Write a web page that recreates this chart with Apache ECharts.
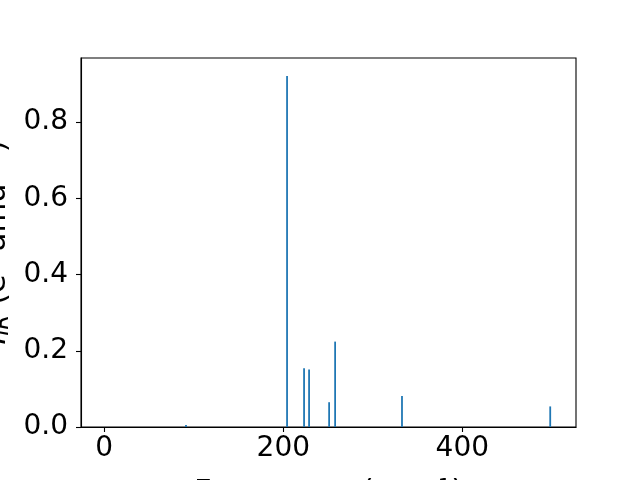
<!DOCTYPE html>
<html>
<head>
<meta charset="utf-8">
<script src="https://cdn.jsdelivr.net/npm/echarts@6/dist/echarts.min.js"></script>
<style>
html,body{margin:0;padding:0;background:#fff;}
#chart{width:640px;height:480px;}
</style>
</head>
<body>
<div id="chart"></div>
<script>
// Data
const frequencies = [91.3, 204.2, 223.2, 228.8, 251.2, 257.9, 332.6, 498.2];
const intensities = [0.005, 0.921, 0.154, 0.151, 0.065, 0.224, 0.081, 0.054];
const xTicks = [0, 200, 400];
const yTicks = [0, 0.2, 0.4, 0.6, 0.8];
const barWidthUnits = 2;

const seriesData = frequencies.map((f, i) => [f, intensities[i]]);

const chart = echarts.init(document.getElementById('chart'), null, {renderer: 'canvas'});
const FONT = 'DejaVu Sans';
chart.setOption({
  animation: false,
  backgroundColor: '#ffffff',
  textStyle: {fontFamily: FONT},
  grid: {left: 81, top: 58, right: 64, bottom: 53, containLabel: false, outerBoundsMode: 'none',
    show: true, borderColor: '#000', borderWidth: 1.1, backgroundColor: 'transparent'},
  xAxis: {
    type: 'value',
    min: -26, max: 527,
    splitLine: {show: false},
    axisLine: {show: true, onZero: false, lineStyle: {color: '#000', width: 1.1}},
    axisTick: {show: true, customValues: xTicks, length: 5, lineStyle: {color: '#000', width: 1.1}},
    axisLabel: {customValues: xTicks, fontSize: 28, color: '#000', fontFamily: FONT, margin: 8, showMinLabel: true, showMaxLabel: true},
    name: 'Frequency (cm{sup|−1})',
    nameLocation: 'middle',
    nameGap: 51,
    nameTextStyle: {fontSize: 30.6, color: '#000', fontFamily: FONT,
      rich: {sup: {fontSize: 21, color: '#000', fontFamily: FONT, verticalAlign: 'top'}}}
  },
  yAxis: {
    type: 'value',
    min: 0, max: 0.968,
    splitLine: {show: false},
    axisLine: {show: true, onZero: false, lineStyle: {color: '#000', width: 1.1}},
    axisTick: {show: true, customValues: yTicks, length: 5, lineStyle: {color: '#000', width: 1.1}},
    axisLabel: {customValues: yTicks, fontSize: 28, color: '#000', fontFamily: FONT, margin: 13,
      formatter: v => v.toFixed(1)},
    name: '{i|I}{sub|IR} (e{sup|2} amu{sup|−1})',
    nameLocation: 'middle',
    nameRotate: 90,
    nameGap: 65,
    nameTextStyle: {
      fontSize: 30.6, color: '#000', fontFamily: FONT,
      rich: {
        i: {fontSize: 30.6, fontStyle: 'italic', fontFamily: FONT, color: '#000'},
        sub: {fontSize: 21, fontStyle: 'italic', fontFamily: FONT, color: '#000', verticalAlign: 'bottom', padding: [8, 0, 0, 0]},
        sup: {fontSize: 21, fontFamily: FONT, color: '#000', verticalAlign: 'top'}
      }
    }
  },
  series: [{
    type: 'custom',
    data: seriesData,
    renderItem: function (params, api) {
      const x = api.value(0), y = api.value(1);
      const p0 = api.coord([x - barWidthUnits / 2, y]);
      const p1 = api.coord([x + barWidthUnits / 2, 0]);
      return {
        type: 'rect',
        shape: {x: p0[0], y: p0[1], width: p1[0] - p0[0], height: p1[1] - p0[1]},
        style: {fill: '#1f77b4'}
      };
    },
    encode: {x: 0, y: 1}
  }]
});
</script>
</body>
</html>
